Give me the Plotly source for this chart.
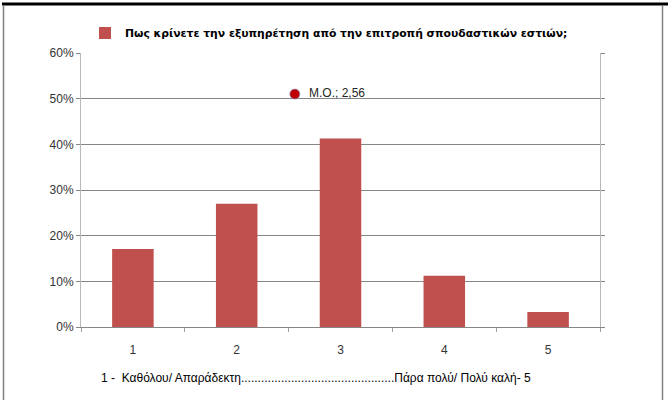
import plotly.graph_objects as go

categories = [1, 2, 3, 4, 5]
values = [0.171, 0.270, 0.413, 0.112, 0.033]
series_name = "Πως κρίνετε την εξυπηρέτηση από την επιτροπή σπουδαστικών εστιών;"
mean_value = 2.56
mean_y = 0.51
mean_label = "M.O.; 2,56"
y_ticks = [0, 0.1, 0.2, 0.3, 0.4, 0.5, 0.6]
y_ticktext = ["0%", "10%", "20%", "30%", "40%", "50%", "60%"]
bottom_note = "1 -  Καθόλου/ Απαράδεκτη..............................................Πάρα πολύ/ Πολύ καλή- 5"

L, R, T, B = 81, 70, 53, 73
W, H = 670, 400
pw, ph = W - L - R, H - T - B

def px_x(x):
    return (x - L) / pw

def px_y(y):
    return (H - B - y) / ph

fig = go.Figure()
fig.add_trace(go.Bar(
    x=categories, y=values, width=0.4, name=series_name,
    marker=dict(color="#C0504D", line=dict(width=0)),
    showlegend=True,
))
fig.add_trace(go.Scatter(
    x=[mean_value], y=[mean_y], mode="markers", showlegend=False,
    marker=dict(color="#C00000", size=10, line=dict(color="#7f8fbf", width=0.7)),
))
fig.add_annotation(x=mean_value, y=mean_y, xref="x", yref="y", text=mean_label,
                   showarrow=False, xanchor="left", xshift=12, yshift=1,
                   font=dict(family="Liberation Sans", size=12, color="#262626"))
fig.add_annotation(x=px_x(316), y=px_y(378), xref="paper", yref="paper", text=bottom_note,
                   showarrow=False, xanchor="center", yanchor="middle",
                   font=dict(family="Liberation Sans", size=12, color="#000000"))

# outer frame
fig.add_shape(type="line", xref="paper", yref="paper", x0=px_x(2), x1=px_x(668), y0=px_y(4), y1=px_y(4),
              line=dict(color="#000000", width=3))
fig.add_shape(type="line", xref="paper", yref="paper", x0=px_x(3.5), x1=px_x(3.5), y0=px_y(5), y1=px_y(400),
              line=dict(color="#808080", width=1.5))
fig.add_shape(type="line", xref="paper", yref="paper", x0=px_x(662.5), x1=px_x(662.5), y0=px_y(5), y1=px_y(400),
              line=dict(color="#808080", width=1.5))

fig.update_layout(
    width=W, height=H,
    margin=dict(l=L, r=R, t=T, b=B),
    paper_bgcolor="white", plot_bgcolor="white",
    font=dict(family="Liberation Sans", size=11, color="#333333"),
    legend=dict(orientation="h", x=px_x(85), xanchor="left", y=px_y(33), yanchor="middle",
                font=dict(family="DejaVu Sans", size=10.8, color="#000000", weight="bold"),
                itemwidth=30, bgcolor="rgba(0,0,0,0)"),
    xaxis=dict(
        range=[0.5, 5.5], tickmode="array", tickvals=categories, ticktext=[str(c) for c in categories],
        ticks="", showgrid=False, zeroline=False, showline=True, linecolor="#868686", linewidth=1,
        ticklabelstandoff=12,
        tickfont=dict(family="Liberation Sans", size=12, color="#333333"),
        minor=dict(tickmode="array", tickvals=[0.5, 1.5, 2.5, 3.5, 4.5, 5.5], ticks="outside",
                   ticklen=4, tickcolor="#a0a0a0", showgrid=False),
    ),
    yaxis=dict(
        range=[0, 0.6], tickmode="array", tickvals=y_ticks, ticktext=y_ticktext,
        ticks="outside", ticklen=4, tickcolor="#868686",
        showgrid=True, gridcolor="#868686", gridwidth=1, zeroline=False,
        showline=True, linecolor="#b8b8b8", linewidth=1, mirror="ticks",
        tickfont=dict(family="Liberation Sans", size=12, color="#333333"),
    ),
    bargap=0.6,
)

fig.write_html("out.html", config={"displayModeBar": False},
               post_script="document.body.style.margin='0';document.body.style.overflow='hidden';")
